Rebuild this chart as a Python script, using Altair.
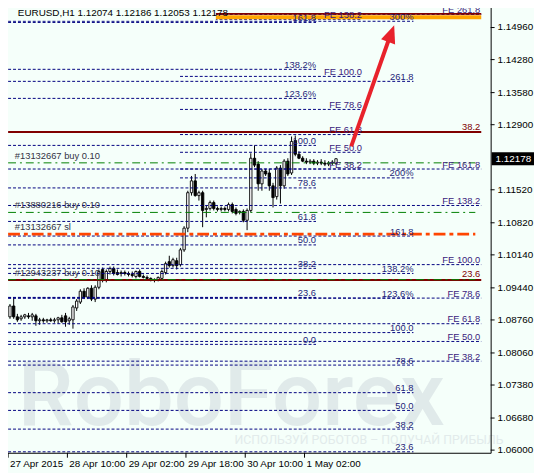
import altair as alt
import pandas as pd

OFF = 8                      # page margin: drawing coords = page coords - OFF
W, H = 542 - OFF, 473 - OFF
BG = "#F5FFFA"
FONT = "Liberation Sans"

# ---------------- candles (EURUSD H1) ----------------
bar_open = [1.08826, 1.09056, 1.08826, 1.08784, 1.08826, 1.08847, 1.08826, 1.08847, 1.08742, 1.08763,
            1.08742, 1.08763, 1.08742, 1.08763, 1.08805, 1.08847, 1.08742, 1.08763, 1.09014, 1.09139,
            1.09369, 1.09244, 1.09432, 1.09202, 1.09453, 1.09829, 1.09599, 1.09787, 1.09850, 1.09766,
            1.09745, 1.09766, 1.09745, 1.09724, 1.09682, 1.09787, 1.09682, 1.09661, 1.09641, 1.09599,
            1.09620, 1.09641, 1.09766, 1.09996, 1.09912, 1.10016, 1.09933, 1.10246, 1.10706, 1.11458,
            1.11709, 1.11396, 1.11458, 1.11103, 1.11124, 1.11249, 1.11124, 1.11103, 1.11124, 1.11103,
            1.11207, 1.11103, 1.11040, 1.11061, 1.10873, 1.11082, 1.12189, 1.12064, 1.11646, 1.11918,
            1.11876, 1.11604, 1.11375, 1.11980, 1.11604, 1.12127, 1.11876, 1.12565, 1.12273, 1.12189,
            1.12127, 1.12106, 1.12127, 1.12085, 1.12106, 1.12085, 1.12064, 1.12085, 1.12074]
bar_high = [1.09098, 1.09244, 1.08889, 1.08868, 1.08889, 1.08909, 1.08909, 1.08889, 1.08805, 1.08805,
            1.08784, 1.08805, 1.08805, 1.08826, 1.08868, 1.08909, 1.08826, 1.09077, 1.09202, 1.09411,
            1.09432, 1.09453, 1.09495, 1.09495, 1.09829, 1.09871, 1.09829, 1.09892, 1.09892, 1.09829,
            1.09808, 1.09808, 1.09787, 1.09787, 1.09808, 1.09829, 1.09724, 1.09703, 1.09661, 1.09641,
            1.09682, 1.09829, 1.09996, 1.10121, 1.10079, 1.10079, 1.10288, 1.10748, 1.11500, 1.11813,
            1.11855, 1.11500, 1.11500, 1.11186, 1.11291, 1.11291, 1.11166, 1.11166, 1.11166, 1.11249,
            1.11249, 1.11145, 1.11082, 1.11103, 1.11124, 1.12294, 1.12461, 1.12127, 1.11960, 1.11960,
            1.11960, 1.11667, 1.12022, 1.12043, 1.12169, 1.12189, 1.12649, 1.12670, 1.12336, 1.12231,
            1.12189, 1.12169, 1.12169, 1.12148, 1.12169, 1.12148, 1.12127, 1.12148, 1.12186]
bar_low = [1.08784, 1.08784, 1.08721, 1.08742, 1.08784, 1.08784, 1.08742, 1.08637, 1.08658, 1.08700,
           1.08700, 1.08721, 1.08700, 1.08679, 1.08700, 1.08616, 1.08658, 1.08575, 1.08951, 1.09098,
           1.09202, 1.09202, 1.09160, 1.09139, 1.09411, 1.09557, 1.09557, 1.09724, 1.09703, 1.09703,
           1.09682, 1.09703, 1.09682, 1.09661, 1.09641, 1.09661, 1.09641, 1.09620, 1.09578, 1.09557,
           1.09578, 1.09599, 1.09724, 1.09871, 1.09871, 1.09829, 1.09892, 1.10204, 1.10622, 1.11396,
           1.11375, 1.11291, 1.10727, 1.10936, 1.11082, 1.11082, 1.11061, 1.11061, 1.11061, 1.11061,
           1.11019, 1.10978, 1.10998, 1.10831, 1.10664, 1.11040, 1.11999, 1.11500, 1.11500, 1.11813,
           1.11500, 1.11145, 1.11312, 1.11228, 1.11542, 1.11813, 1.11834, 1.12231, 1.12169, 1.12106,
           1.12064, 1.12064, 1.12043, 1.12043, 1.12043, 1.12022, 1.12022, 1.12043, 1.12053]
bar_close = [1.09056, 1.08826, 1.08763, 1.08826, 1.08868, 1.08826, 1.08868, 1.08742, 1.08763, 1.08742,
             1.08763, 1.08742, 1.08763, 1.08805, 1.08721, 1.08721, 1.08784, 1.09035, 1.09160, 1.09369,
             1.09244, 1.09432, 1.09202, 1.09453, 1.09787, 1.09599, 1.09787, 1.09850, 1.09745, 1.09724,
             1.09766, 1.09745, 1.09724, 1.09703, 1.09787, 1.09682, 1.09661, 1.09641, 1.09599, 1.09620,
             1.09661, 1.09787, 1.09954, 1.09912, 1.10037, 1.09912, 1.10246, 1.10706, 1.11458, 1.11709,
             1.11396, 1.11458, 1.11082, 1.11124, 1.11249, 1.11124, 1.11103, 1.11124, 1.11103, 1.11207,
             1.11061, 1.11019, 1.11061, 1.10873, 1.11082, 1.12189, 1.12043, 1.11646, 1.11918, 1.11855,
             1.11604, 1.11354, 1.11980, 1.11604, 1.12127, 1.11855, 1.12544, 1.12273, 1.12189, 1.12127,
             1.12106, 1.12127, 1.12085, 1.12106, 1.12085, 1.12064, 1.12085, 1.12106, 1.12178]

# ---------------- axes ----------------
price_ticks = [1.06000, 1.06680, 1.07380, 1.08060, 1.08760, 1.09440, 1.10140,
               1.10820, 1.11520, 1.12900, 1.13580, 1.14280, 1.14960]
price_tick_labels = ["1.06000", "1.06680", "1.07380", "1.08060", "1.08760", "1.09440", "1.10140",
                     "1.10820", "1.11520", "1.12900", "1.13580", "1.14280", "1.14960"]
last_price = 1.12178
last_price_label = "1.12178"
time_ticks = [-0.5, 15.5, 31.5, 47.5, 63.5, 79.5]
time_labels = ["27 Apr 2015", "28 Apr 10:00", "29 Apr 02:00", "29 Apr 18:00", "30 Apr 10:00", "1 May 02:00"]
title_text = "EURUSD,H1  1.12074 1.12186 1.12053 1.12178"

# ---------------- Fibonacci objects ----------------
fibA_labels = ["0.0", "23.6", "38.2", "50.0", "61.8", "78.6", "100.0", "123.6%", "138.2%", "161.8"]
fibA_prices = [1.08242, 1.09238, 1.09854, 1.10351, 1.10849, 1.11559, 1.12461, 1.13458, 1.14074, 1.15068]
fibA_start, fibA_end = -0.5, 82.6

fibB_labels = ["23.6", "38.2", "50.0", "61.8", "78.6", "100.0", "123.6%", "138.2%", "161.8", "200%", "261.8", "300%"]
fibB_prices = [1.05964, 1.06445, 1.06842, 1.07218, 1.07803, 1.08492, 1.09223, 1.09746, 1.10539, 1.11772, 1.13819, 1.15093]
fibB_start = [-0.5, -0.5, -0.5, -0.5, -0.5, -0.5, -0.5, -0.5, -0.5, 45.9, -0.5, -0.5]
fibB_end = 108.9

feC_labels = ["FE 38.2", "FE 50.0", "FE 61.8", "FE 78.6", "FE 100.0", "FE 138.2"]
feC_prices = [1.11960, 1.12315, 1.12691, 1.13224, 1.13924, 1.15135]
feC_start, feC_end = 45.9, 95.0

feD_labels = ["FE 38.2", "FE 50.0", "FE 61.8", "FE 78.6", "FE 100.0", "FE 138.2", "FE 161.8", "FE 261.8"]
feD_prices = [1.07886, 1.08304, 1.08680, 1.09223, 1.09933, 1.11187, 1.11960, 1.15239]
feD_start, feD_end = -0.5, 127.2

red_labels = ["23.6", "38.2"]
red_prices = [1.09609, 1.12743]
red_top_price = 1.15250
orange_top_price = 1.15177

order_labels = ["#13132667 buy 0.10", "#13880216 buy 0.10", "#12943237 buy 0.10"]
order_prices = [1.12091, 1.11040, 1.09615]
sl_labels = ["#13132667 sl"]
sl_prices = [1.10580]

arrow_tail = (92.1, 1.1244)
arrow_shaft_end = (102.9, 1.1485)
arrow_tip = (103.7, 1.1501)

# ---------------- scales ----------------
xs = alt.Scale(domain=[0, 88], range=[5 - OFF, 346 - OFF], nice=False, zero=False)
ys = alt.Scale(domain=[1.06, 1.1496], range=[453.3 - OFF, 24.3 - OFF], nice=False, zero=False)


def X(f):
    return alt.X(f"{f}:Q", scale=xs, axis=None)


def Y(f):
    return alt.Y(f"{f}:Q", scale=ys, axis=None)


def lvl(labels, prices, x0, x1):
    n = len(labels)
    return pd.DataFrame({
        "label": labels, "p": prices,
        "x0": x0 if isinstance(x0, list) else [x0] * n,
        "x1": x1 if isinstance(x1, list) else [x1] * n,
    })


one = pd.DataFrame({"t": [""]})
layers = []

# watermark
layers.append(alt.Chart(pd.DataFrame({"t": ["RoboForex"]})).mark_text(
    align="left", baseline="alphabetic", font="Roboto", fontSize=90, fontWeight=500, color="#E0EAEA"
).encode(x=alt.value(18 - OFF), y=alt.value(428 - OFF), text="t:N"))
layers.append(alt.Chart(pd.DataFrame({"t": ["ИСПОЛЬЗУЙ РОБОТОВ – ПОЛУЧАЙ ПРИБЫЛЬ"]})).mark_text(
    align="left", baseline="alphabetic", font="Roboto", fontSize=12.5, color="#E2EBEB"
).encode(x=alt.value(238 - OFF), y=alt.value(447 - OFF), text="t:N"))

# candles
cdf = pd.DataFrame({"i": list(range(len(bar_open))), "o": bar_open, "h": bar_high,
                    "l": bar_low, "c": bar_close})
cdf["dir"] = ["up" if c >= o else "down" for o, c in zip(bar_open, bar_close)]
layers.append(alt.Chart(cdf).mark_rule(color="black", strokeWidth=1).encode(
    x=X("i"), y=Y("l"), y2="h"))
layers.append(alt.Chart(cdf).mark_bar(size=2.4, stroke="black", strokeWidth=0.9).encode(
    x=X("i"), y=Y("o"), y2="c",
    fill=alt.Fill("dir:N", scale=alt.Scale(domain=["up", "down"], range=["white", "black"]), legend=None)))

# dashed levels
dfA = lvl(fibA_labels, fibA_prices, fibA_start, fibA_end)
dfB = lvl(fibB_labels, fibB_prices, fibB_start, fibB_end)
dfC = lvl(feC_labels, feC_prices, feC_start, feC_end)
dfD = lvl(feD_labels, feD_prices, feD_start, feD_end)
for d in (dfA, dfB, dfC, dfD):
    layers.append(alt.Chart(d).mark_rule(color="#000080", strokeDash=[3, 2], strokeWidth=1).encode(
        x=X("x0"), x2="x1", y=Y("p")))

# solid / order lines
dfR = lvl(red_labels + [""], red_prices + [red_top_price], -0.5, 127.2)
layers.append(alt.Chart(dfR).mark_rule(color="#800000", strokeWidth=2).encode(x=X("x0"), x2="x1", y=Y("p")))
dfO = lvl(["tp"], [orange_top_price], -0.5, 127.2)
layers.append(alt.Chart(dfO).mark_rule(color="#FFA500", strokeWidth=4).encode(x=X("x0"), x2="x1", y=Y("p")))
dfG = lvl(order_labels, order_prices, -0.5, 125.6)
layers.append(alt.Chart(dfG).mark_rule(color="#008000", strokeWidth=1, strokeDash=[8, 4, 2, 4]).encode(
    x=X("x0"), x2="x1", y=Y("p")))
dfS = lvl(sl_labels, sl_prices, -0.5, 125.6)
layers.append(alt.Chart(dfS).mark_rule(color="#FF4500", strokeWidth=3, strokeDash=[12, 4, 4, 4]).encode(
    x=X("x0"), x2="x1", y=Y("p")))

# title box + title
layers.append(alt.Chart(one).mark_rect(color=BG).encode(
    x=alt.value(0 - OFF), x2=alt.value(219 - OFF), y=alt.value(0 - OFF), y2=alt.value(17 - OFF)))
layers.append(alt.Chart(pd.DataFrame({"t": [title_text]})).mark_text(
    align="left", baseline="alphabetic", font=FONT, fontSize=10, color="black"
).encode(x=alt.value(18 - OFF), y=alt.value(13 - OFF), text="t:N"))

# level labels
for d, col in ((dfA, "#1E1E78"), (dfB, "#1E1E78"), (dfC, "#3A1A7A")):
    layers.append(alt.Chart(d).mark_text(align="right", baseline="alphabetic", dy=-1.5, font=FONT,
                                         fontSize=9.5, color=col).encode(x=X("x1"), y=Y("p"), text="label:N"))
layers.append(alt.Chart(dfD).mark_text(align="right", baseline="alphabetic", dy=-1.5, dx=-1, font=FONT,
                                       fontSize=9.5, color="#3A1A7A").encode(x=X("x1"), y=Y("p"), text="label:N"))
layers.append(alt.Chart(lvl(red_labels, red_prices, -0.5, 127.2)).mark_text(
    align="right", baseline="alphabetic", dy=-2.5, dx=-1, font=FONT, fontSize=9.5, color="#800000"
).encode(x=X("x1"), y=Y("p"), text="label:N"))
for d in (dfG, dfS):
    layers.append(alt.Chart(d.assign(xl=1.3)).mark_text(
        align="left", baseline="alphabetic", dy=-4, font=FONT, fontSize=9.5, color="#333344"
    ).encode(x=X("xl"), y=Y("p"), text="label:N"))

# arrow
adf = pd.DataFrame({"x": [arrow_tail[0]], "p": [arrow_tail[1]],
                    "x2": [arrow_shaft_end[0]], "p2": [arrow_shaft_end[1]]})
layers.append(alt.Chart(adf).mark_rule(color="#E8222B", strokeWidth=4).encode(
    x=X("x"), y=Y("p"), x2="x2", y2="p2"))
hdf = pd.DataFrame({"x": [arrow_tip[0]], "p": [arrow_tip[1]]})
layers.append(alt.Chart(hdf).mark_point(shape="M0,0L-0.42,1L0.42,1Z", size=1300, filled=True,
                                        color="#E8222B", opacity=1, angle=20).encode(x=X("x"), y=Y("p")))

# frame
layers.append(alt.Chart(one).mark_rule(color="black").encode(
    x=alt.value(3.5 - OFF), y=alt.value(0 - OFF), y2=alt.value(456.5 - OFF)))
layers.append(alt.Chart(one).mark_rule(color="black").encode(
    x=alt.value(3 - OFF), x2=alt.value(498.5 - OFF), y=alt.value(456.5 - OFF)))
layers.append(alt.Chart(one).mark_rule(color="black").encode(
    x=alt.value(498.5 - OFF), y=alt.value(0 - OFF), y2=alt.value(456.5 - OFF)))

# right axis
pdf = pd.DataFrame({"p": price_ticks, "label": price_tick_labels})
layers.append(alt.Chart(pdf).mark_rule(color="black").encode(
    x=alt.value(498 - OFF), x2=alt.value(502 - OFF), y=Y("p")))
layers.append(alt.Chart(pdf).mark_text(align="left", baseline="middle", font=FONT, fontSize=10,
                                       color="black").encode(x=alt.value(505 - OFF), y=Y("p"), text="label:N"))
ldf = pd.DataFrame({"p": [last_price], "label": [last_price_label]})
layers.append(alt.Chart(ldf).mark_point(shape="M-3.583,-1.1L3.583,-1.1L3.583,1.1L-3.583,1.1Z", size=144,
                                        filled=True, color="black", opacity=1).encode(
    x=alt.value(520.5 - OFF), y=Y("p")))
layers.append(alt.Chart(ldf).mark_text(align="left", baseline="middle", font=FONT, fontSize=10,
                                       color="white").encode(x=alt.value(503 - OFF), y=Y("p"), text="label:N"))

# bottom axis
tdf = pd.DataFrame({"t": time_ticks, "label": time_labels})
layers.append(alt.Chart(tdf).mark_rule(color="black").encode(
    x=X("t"), y=alt.value(456 - OFF), y2=alt.value(461 - OFF)))
layers.append(alt.Chart(tdf).mark_text(align="left", baseline="middle", dx=2, font=FONT, fontSize=10,
                                       color="black").encode(x=X("t"), y=alt.value(467 - OFF), text="label:N"))

chart = alt.layer(*layers).properties(
    width=W, height=H, autosize=alt.AutoSizeParams(type="none"), padding=0, background=BG
).configure_view(stroke=None)

chart.save("out.html", embed_options={"renderer": "svg", "actions": False})
